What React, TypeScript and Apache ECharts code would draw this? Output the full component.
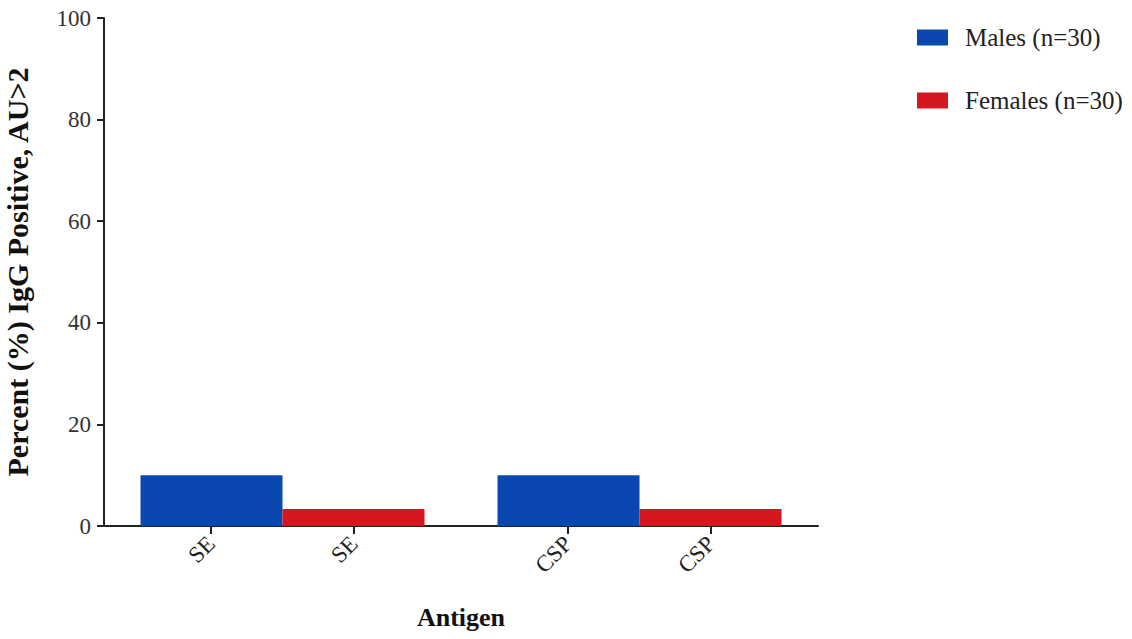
import React, { useEffect, useRef } from "react";
import * as echarts from "echarts";

const antigens = ["SE", "CSP"];
const seriesNames = ["Males (n=30)", "Females (n=30)"];
const malesPct = [10, 10];
const femalesPct = [3.33, 3.33];
const yTicks = [0, 20, 40, 60, 80, 100];

// tick/label positions under each bar, in units of one bar width across the axis
// (each antigen group spans 2.5 units; bars in it centred at 0.75 and 1.75)
const groupStep = 2.5;
const firstOffset = 0.75;
const tickPos = antigens.flatMap((_, i) => [i * groupStep + firstOffset, i * groupStep + firstOffset + 1]);
const tickLabels = antigens.flatMap((a) => [a, a]);

const FONT = "Liberation Serif";
const AXIS_COLOR = "#222";

export default function App() {
  const ref = useRef<HTMLDivElement>(null);
  useEffect(() => {
    document.body.style.margin = "0";
    const chart = echarts.init(ref.current!, null, { renderer: "svg" });
    chart.setOption({
      animation: false,
      backgroundColor: "#ffffff",
      textStyle: { fontFamily: FONT },
      grid: {
        left: 104,
        top: 18,
        right: 314,
        bottom: 113,
        containLabel: false,
        outerBoundsMode: "none",
      },
      legend: {
        orient: "vertical",
        left: 917,
        top: 25,
        padding: 0,
        itemWidth: 31,
        itemHeight: 16,
        itemGap: 38,
        icon: "rect",
        textStyle: { fontFamily: FONT, fontSize: 25, color: "#222", padding: [0, 0, 0, 12] },
        data: seriesNames,
      },
      xAxis: [
        {
          type: "category",
          data: antigens,
          position: "bottom",
          axisLine: { show: true, lineStyle: { color: AXIS_COLOR, width: 2 } },
          axisTick: { show: false },
          axisLabel: { show: false },
          splitLine: { show: false },
        },
        {
          type: "value",
          position: "bottom",
          min: 0,
          max: antigens.length * groupStep,
          name: "Antigen",
          nameLocation: "middle",
          nameGap: 78,
          nameTextStyle: { fontFamily: FONT, fontSize: 26, fontWeight: "bold", color: "#111" },
          splitLine: { show: false },
          axisLine: { show: false, onZero: false },
          axisTick: {
            show: true,
            customValues: tickPos,
            length: 8,
            lineStyle: { color: AXIS_COLOR, width: 2 },
          },
          axisLabel: {
            customValues: tickPos,
            rotate: 45,
            margin: 14,
            fontFamily: FONT,
            fontSize: 23,
            color: "#222",
            formatter: (v: number) => {
              const i = tickPos.findIndex((p) => Math.abs(p - v) < 1e-6);
              return i >= 0 ? tickLabels[i] : "";
            },
          },
        },
      ],
      yAxis: {
        type: "value",
        min: 0,
        max: 100,
        interval: 20,
        name: "Percent (%) IgG Positive, AU>2",
        nameLocation: "middle",
        nameGap: 72,
        nameTextStyle: { fontFamily: FONT, fontSize: 30, fontWeight: "bold", color: "#111" },
        splitLine: { show: false },
        axisLine: { show: true, onZero: false, lineStyle: { color: AXIS_COLOR, width: 2 } },
        axisTick: { show: true, length: 7, lineStyle: { color: AXIS_COLOR, width: 2 } },
        axisLabel: {
          margin: 13,
          fontFamily: FONT,
          fontSize: 23,
          color: "#333",
          formatter: (v: number) => (yTicks.includes(v) ? String(v) : ""),
        },
      },
      series: [
        {
          name: seriesNames[0],
          type: "bar",
          xAxisIndex: 0,
          barWidth: 142,
          barGap: "0%",
          itemStyle: { color: "#0b47b0" },
          data: malesPct,
        },
        {
          name: seriesNames[1],
          type: "bar",
          xAxisIndex: 0,
          barWidth: 142,
          barGap: "0%",
          itemStyle: { color: "#d5171f" },
          data: femalesPct,
        },
      ],
    });
    return () => chart.dispose();
  }, []);
  return <div ref={ref} style={{ width: 1132, height: 639 }} />;
}
